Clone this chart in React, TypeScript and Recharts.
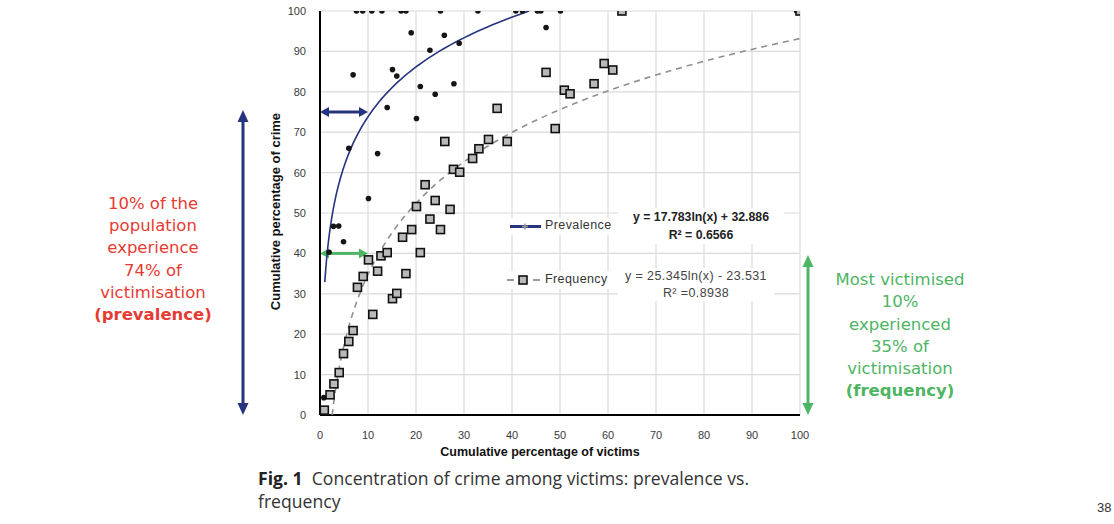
import React from "react";
import { ScatterChart, Scatter, XAxis, YAxis, CartesianGrid, ReferenceLine } from "recharts";

// cumulative % of victims (x) vs cumulative % of crime (y)
const prevalenceX = [7.6, 8.9, 10.8, 12.9, 16.9, 17.9, 25.1, 32.9, 40.8, 42.2, 45.3, 46.0, 50.1, 99.3,
  6.9, 19.0, 25.9, 22.9, 29.0, 15.1, 16.0, 20.9, 27.9, 24.0, 14.0, 20.1, 47.1, 6.0, 12.0, 10.1, 2.8, 3.9, 4.9, 1.9, 0.8];
const prevalenceY = [100, 100, 100, 100, 100, 100, 100, 100, 100, 100, 100, 100, 100, 100,
  84.2, 94.6, 94.0, 90.3, 92.0, 85.5, 83.9, 81.3, 82.0, 79.4, 76.1, 73.4, 95.9, 66.0, 64.7, 53.6, 46.7, 46.8, 42.9, 40.3, 4.3];

const frequencyX = [0.9, 2.1, 2.9, 4.0, 4.9, 6.0, 6.9, 11.0, 7.8, 15.1, 16.0, 9.0, 12.0, 17.9, 10.1, 12.7, 14.0, 20.9,
  17.2, 19.1, 22.9, 25.1, 20.1, 24.0, 27.1, 21.9, 27.8, 29.1, 31.8, 33.1, 35.1, 39.0, 26.0, 36.9, 49.0, 47.1, 59.2,
  61.0, 57.1, 50.9, 52.1, 62.9, 100];
const frequencyY = [1.2, 5.0, 7.7, 10.5, 15.2, 18.2, 20.9, 24.9, 31.6, 28.8, 30.1, 34.3, 35.6, 35.0, 38.4, 39.4, 40.2, 40.2,
  44.0, 45.9, 48.5, 45.9, 51.6, 53.1, 50.9, 57.0, 60.8, 60.1, 63.5, 65.9, 68.2, 67.7, 67.7, 75.9, 70.9, 84.8, 87.0,
  85.4, 82.0, 80.4, 79.5, 100, 100];

// fitted log trendlines: y = a ln(x) + b
const prevalenceFit = { a: 17.783, b: 32.886 };
const frequencyFit = { a: 25.345, b: -23.531 };

const ticks = [0, 10, 20, 30, 40, 50, 60, 70, 80, 90, 100];

const zip = (xs: number[], ys: number[]) => xs.map((x, i) => ({ x, y: ys[i] }));

const trend = (fit: { a: number; b: number }, from: number, to: number) => {
  const pts: { x: number; y: number }[] = [];
  const n = 80;
  for (let i = 0; i <= n; i++) {
    const x = from * Math.pow(to / from, i / n);
    pts.push({ x, y: fit.a * Math.log(x) + fit.b });
  }
  return pts;
};

const prevalencePts = zip(prevalenceX, prevalenceY);
const frequencyPts = zip(frequencyX, frequencyY);
const prevalenceTrend = trend(prevalenceFit, 1, Math.exp((100 - prevalenceFit.b) / prevalenceFit.a));
const frequencyTrend = trend(frequencyFit, Math.exp(-frequencyFit.b / frequencyFit.a), 100);

const NAVY = "#26337f";
const GREEN = "#4db563";
const RED = "#e63b32";

const Dot = (p: any) => <circle cx={p.cx} cy={p.cy} r={2.8} fill="#151515" />;
const Box = (p: any) => (
  <rect x={p.cx - 4} y={p.cy - 4} width={8} height={8} fill="#b9b9b9" stroke="#111" strokeWidth={1.6} />
);
const NoMark = () => <g />;

const arrowShape = (color: string) => (p: any) => {
  const { x1, y1, x2, y2 } = p;
  const h = 5;
  const l = 9;
  return (
    <g>
      <line x1={x1 + l - 1} y1={y1} x2={x2 - l + 1} y2={y2} stroke={color} strokeWidth={3} />
      <polygon points={`${x1},${y1} ${x1 + l},${y1 - h} ${x1 + l},${y1 + h}`} fill={color} />
      <polygon points={`${x2},${y2} ${x2 - l},${y2 - h} ${x2 - l},${y2 + h}`} fill={color} />
    </g>
  );
};

const tickStyle = { fontSize: 11, fill: "#3a3a3a", fontFamily: "Liberation Sans" };

const abs = (style: React.CSSProperties): React.CSSProperties => ({ position: "absolute", ...style });

export default function App() {
  return (
    <div style={{ position: "absolute", left: 0, top: 0, width: 1114, height: 524, background: "#fff", overflow: "hidden" }}>
      <ScatterChart width={1114} height={524} margin={{ top: 11, right: 314, bottom: 79, left: 290 }}>
        <CartesianGrid stroke="#dadada" strokeWidth={1.2} />
        <XAxis type="number" dataKey="x" domain={[0, 100]} ticks={ticks} height={30}
          tick={tickStyle} tickLine={false} tickMargin={10} axisLine={{ stroke: "#000", strokeWidth: 2 }} allowDataOverflow />
        <YAxis type="number" dataKey="y" domain={[0, 100]} ticks={ticks} width={30}
          tick={tickStyle} tickLine={false} tickMargin={8} axisLine={{ stroke: "#000", strokeWidth: 2 }} allowDataOverflow />
        <Scatter data={frequencyTrend} line={{ stroke: "#8f8f8f", strokeWidth: 1.6, strokeDasharray: "6 5" }}
          lineType="joint" shape={NoMark} isAnimationActive={false} legendType="none" />
        <Scatter data={prevalenceTrend} line={{ stroke: NAVY, strokeWidth: 1.6 }}
          lineType="joint" shape={NoMark} isAnimationActive={false} legendType="none" />
        <Scatter data={prevalencePts} shape={Dot} isAnimationActive={false} />
        <Scatter data={frequencyPts} shape={Box} isAnimationActive={false} />
        <ReferenceLine segment={[{ x: 0, y: 75 }, { x: 10, y: 75 }]} shape={arrowShape(NAVY)} ifOverflow="visible" />
        <ReferenceLine segment={[{ x: 0, y: 40 }, { x: 10, y: 40 }]} shape={arrowShape(GREEN)} ifOverflow="visible" />
      </ScatterChart>

      {/* axis titles */}
      <div style={abs({ left: 390, top: 445, width: 300, textAlign: "center", font: "bold 12.5px 'Liberation Sans'", color: "#111", whiteSpace: "nowrap" })}>
        Cumulative percentage of victims
      </div>
      <div style={abs({ left: 125, top: 204, width: 300, textAlign: "center", font: "bold 13px 'Liberation Sans'", color: "#111", whiteSpace: "nowrap", transform: "rotate(-90deg)" })}>
        Cumulative percentage of crime
      </div>

      {/* legend and fitted equations */}
      <svg style={abs({ left: 0, top: 0, overflow: "visible" })} width={1114} height={524}>
        <rect x={506} y={218} width={112} height={17} fill="#fff" />
        <line x1={510} y1={226.5} x2={541} y2={226.5} stroke={NAVY} strokeWidth={3} />
        <path d="M522 226.5 h6 M525 223.5 v6" stroke="#9a9a9a" strokeWidth={1.5} />
        <rect x={504} y={271} width={112} height={18} fill="#fff" />
        <line x1={507} y1={280} x2={514} y2={280} stroke="#8f8f8f" strokeWidth={1.8} />
        <line x1={533} y1={280} x2={540} y2={280} stroke="#8f8f8f" strokeWidth={1.8} />
        <rect x={519} y={276} width={8} height={8} fill="#b9b9b9" stroke="#111" strokeWidth={1.6} />
        <rect x={618} y={208} width={166} height={36} fill="#fff" />
        <rect x={618} y={268} width={156} height={33} fill="#fff" />

        {/* bracket arrows beside the plot */}
        <line x1={243} y1={120} x2={243} y2={405} stroke={NAVY} strokeWidth={3} />
        <polygon points="243,110 237.5,122 248.5,122" fill={NAVY} />
        <polygon points="243,415 237.5,403 248.5,403" fill={NAVY} />
        <line x1={808} y1={264} x2={808} y2={405} stroke={GREEN} strokeWidth={3} />
        <polygon points="808,255 802.5,267 813.5,267" fill={GREEN} />
        <polygon points="808,415 802.5,403 813.5,403" fill={GREEN} />
      </svg>
      <div style={abs({ left: 545, top: 218, font: "12.5px 'Liberation Sans'", letterSpacing: 0.4, color: "#333" })}>Prevalence</div>
      <div style={abs({ left: 545, top: 272, font: "12.5px 'Liberation Sans'", letterSpacing: 0.4, color: "#333" })}>Frequency</div>
      <div style={abs({ left: 616, top: 208, width: 170, textAlign: "center", font: "bold 12.3px 'Liberation Sans'", color: "#222", lineHeight: "18px" })}>
        y = 17.783ln(x) + 32.886<br />R² = 0.6566
      </div>
      <div style={abs({ left: 616, top: 268, width: 160, textAlign: "center", font: "12.5px 'Liberation Sans'", color: "#444", lineHeight: "17px", letterSpacing: 0.4 })}>
        y = 25.345ln(x) - 23.531<br />R² =0.8938
      </div>

      {/* side notes */}
      <div style={abs({ left: 53, top: 193, width: 200, textAlign: "center", font: "16.5px 'DejaVu Sans'", color: RED, lineHeight: "22.2px" })}>
        10% of the<br />population<br />experience<br />74% of<br />victimisation<br /><b>(prevalence)</b>
      </div>
      <div style={abs({ left: 800, top: 269, width: 200, textAlign: "center", font: "16.5px 'DejaVu Sans'", color: GREEN, lineHeight: "22.3px" })}>
        Most victimised<br />10%<br />experienced<br />35% of<br />victimisation<br /><b>(frequency)</b>
      </div>

      {/* caption */}
      <div style={abs({ left: 258, top: 467, font: "17.6px 'Open Sans'", color: "#333", lineHeight: "23px", width: 600 })}>
        <b style={{ color: "#222" }}>Fig. 1</b>&nbsp; Concentration of crime among victims: prevalence vs.<br />frequency
      </div>
      <div style={abs({ left: 1097, top: 500, font: "13px 'Liberation Sans'", color: "#333" })}>38</div>
    </div>
  );
}
